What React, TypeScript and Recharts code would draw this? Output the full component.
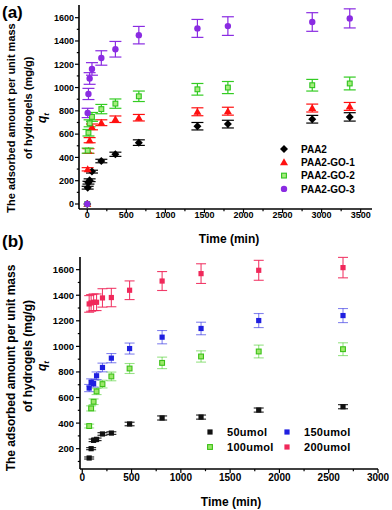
import React from 'react';
import { ScatterChart, Scatter, XAxis, YAxis, ErrorBar, Legend } from 'recharts';

// ---------- Panel (a) data ----------
const timeA = [0, 5, 15, 30, 60, 180, 360, 660, 1410, 1800, 2880, 3360];
const paa2 = [0, 140, 183, 204, 278, 369, 427, 527, 668, 686, 728, 748];
const paa2Err = [0, 12, 12, 12, 12, 15, 18, 24, 32, 33, 33, 36];
const go1 = [0, 298, 455, 548, 662, 698, 728, 741, 792, 797, 824, 838];
const go1Err = [0, 14, 20, 22, 25, 25, 28, 28, 34, 34, 34, 34];
const go2 = [0, 458, 612, 693, 748, 815, 862, 925, 985, 1000, 1020, 1035];
const go2Err = [0, 22, 28, 30, 38, 40, 40, 45, 50, 52, 50, 55];
const go3 = [0, 782, 945, 1078, 1160, 1254, 1329, 1450, 1508, 1528, 1563, 1594];
const go3Err = [0, 40, 48, 50, 54, 62, 67, 75, 77, 80, 80, 82];
const ticksAX = [0, 250, 500, 750, 1000, 1250, 1500, 1750, 2000, 2250, 2500, 2750, 3000, 3250, 3500];
const ticksAY = [0, 100, 200, 300, 400, 500, 600, 700, 800, 900, 1000, 1100, 1200, 1300, 1400, 1500, 1600];
const seriesA = ['PAA2', 'PAA2-GO-1', 'PAA2-GO-2', 'PAA2-GO-3'];

// ---------- Panel (b) data ----------
const timeB = [70, 90, 115, 145, 205, 295, 480, 810, 1205, 1790, 2645];
const u50 = [127, 200, 265, 273, 315, 322, 393, 440, 447, 502, 528];
const u50Err = [8, 8, 10, 10, 10, 10, 14, 16, 16, 16, 16];
const u100 = [377, 515, 567, 648, 705, 765, 827, 871, 921, 960, 978];
const u100Err = [15, 20, 22, 25, 30, 34, 39, 45, 44, 50, 50];
const u150 = [674, 718, 710, 770, 835, 908, 983, 1072, 1140, 1202, 1241];
const u150Err = [28, 28, 28, 30, 34, 36, 43, 52, 49, 55, 55];
const u200 = [1332, 1340, 1345, 1345, 1379, 1382, 1439, 1511, 1569, 1595, 1616];
const u200Err = [65, 65, 65, 65, 72, 72, 73, 74, 77, 78, 80];
const ticksBX = [0, 250, 500, 750, 1000, 1250, 1500, 1750, 2000, 2250, 2500, 2750, 3000];
const ticksBY = [100, 200, 300, 400, 500, 600, 700, 800, 900, 1000, 1100, 1200, 1300, 1400, 1500, 1600];
const seriesB = ['50umol', '100umol', '150umol', '200umol'];

const FONT = "Arial, 'Liberation Sans', sans-serif";

const build = (xs: number[], ys: number[], es: number[]) =>
  xs.map((x, i) => ({ x, y: ys[i], e: es[i] }));

const dataA = [
  build(timeA, paa2, paa2Err),
  build(timeA, go1, go1Err),
  build(timeA, go2, go2Err),
  build(timeA, go3, go3Err),
];
const dataB = [
  build(timeB, u50, u50Err),
  build(timeB, u100, u100Err),
  build(timeB, u150, u150Err),
  build(timeB, u200, u200Err),
];

const colA = ['#000000', '#ff1010', '#33cc22', '#8a2be2'];
const colB = ['#000000', '#44cc22', '#1f1fe0', '#f0285a'];

// marker drawers
const diamond = (cx: number, cy: number, c: string) => (
  <path d={`M${cx},${cy - 4}L${cx + 4},${cy}L${cx},${cy + 4}L${cx - 4},${cy}Z`} fill={c} />
);
const triangle = (cx: number, cy: number, c: string) => (
  <path d={`M${cx},${cy - 4}L${cx + 4},${cy + 3}L${cx - 4},${cy + 3}Z`} fill={c} />
);
const squareLight = (cx: number, cy: number, c: string, inner: string) => (
  <rect x={cx - 2.4} y={cy - 2.4} width={4.8} height={4.8} fill={inner} stroke={c} strokeWidth={1.1} />
);
const circle = (cx: number, cy: number, c: string) => <circle cx={cx} cy={cy} r={3.2} fill={c} />;
const square = (cx: number, cy: number, c: string) => (
  <rect x={cx - 2.6} y={cy - 2.6} width={5.2} height={5.2} fill={c} />
);

const markerA = [
  (cx: number, cy: number) => diamond(cx, cy, colA[0]),
  (cx: number, cy: number) => triangle(cx, cy, colA[1]),
  (cx: number, cy: number) => squareLight(cx, cy, '#2fc41f', '#a6ec7e'),
  (cx: number, cy: number) => circle(cx, cy, colA[3]),
];
const markerB = [
  (cx: number, cy: number) => square(cx, cy, '#111111'),
  (cx: number, cy: number) => squareLight(cx, cy, '#3cc018', '#9be86a'),
  (cx: number, cy: number) => square(cx, cy, colB[2]),
  (cx: number, cy: number) => square(cx, cy, colB[3]),
];

const mkShape = (fn: (cx: number, cy: number) => React.ReactElement) => (props: any) => {
  const { cx, cy } = props;
  if (cx == null || cy == null) return <g />;
  return fn(cx, cy);
};

// custom ticks: major (labelled) every `step`, minor in between
const makeXTick = (step: number, fs: number, gap: number) => (props: any) => {
  const { x, y, payload } = props;
  const v = payload.value;
  const major = v % step === 0;
  return (
    <g>
      <line x1={x} x2={x} y1={y} y2={y + (major ? 4 : 2.2)} stroke="#000" strokeWidth={1.2} />
      {major && (
        <text x={x} y={y + gap} dy="0.72em" textAnchor="middle" fontSize={fs} fontWeight="bold" fontFamily={FONT} fill="#000">
          {v}
        </text>
      )}
    </g>
  );
};
const makeYTick = (step: number, fs: number, gap: number) => (props: any) => {
  const { x, y, payload } = props;
  const v = payload.value;
  const major = v % step === 0;
  return (
    <g>
      <line x1={x - (major ? 4 : 2.2)} x2={x} y1={y} y2={y} stroke="#000" strokeWidth={1.2} />
      {major && (
        <text x={x - gap} y={y} dy="0.36em" textAnchor="end" fontSize={fs} fontWeight="bold" fontFamily={FONT} fill="#000">
          {v}
        </text>
      )}
    </g>
  );
};

const LegendA = () => (
  <svg width={110} height={60} style={{ overflow: 'visible' }}>
    {seriesA.map((name, i) => (
      <g key={name}>
        {markerA[i](5, 5 + i * 13.3)}
        <text x={22} y={5 + i * 13.3} dy="0.36em" fontSize={10} fontWeight="bold" fontFamily={FONT} fill="#000">
          {name}
        </text>
      </g>
    ))}
  </svg>
);

const LegendB = () => (
  <svg width={160} height={30} style={{ overflow: 'visible' }}>
    {seriesB.map((name, i) => {
      const col = i < 2 ? 0 : 1;
      const row = i % 2;
      const mx = 5 + col * 77;
      const my = 5 + row * 15;
      return (
        <g key={name}>
          {markerB[i](mx, my)}
          <text x={mx + 17} y={my} dy="0.36em" fontSize={11} fontWeight="bold" fontFamily={FONT} fill="#000" letterSpacing={0.3}>
            {name}
          </text>
        </g>
      );
    })}
  </svg>
);

const Overlay = () => (
  <svg width={392} height={510} style={{ position: 'absolute', left: 0, top: 0, pointerEvents: 'none' }}>
    <g fontFamily={FONT} fontWeight="bold" fill="#000">
      <text x={2} y={18} fontSize={17}>(a)</text>
      <text x={2} y={247} fontSize={17}>(b)</text>
      <text x={229} y={243} fontSize={12} textAnchor="middle">Time (min)</text>
      <text x={231} y={506} fontSize={12} textAnchor="middle">Time (min)</text>
      <text transform="translate(14.5,118) rotate(-90)" fontSize={11} textAnchor="middle">The adsorbed amount per unit mass</text>
      <text transform="translate(32,108) rotate(-90)" fontSize={11} textAnchor="middle">of hydrogels (mg/g)</text>
      <text transform="translate(14.5,368) rotate(-90)" fontSize={12} textAnchor="middle">The adsorbed amount per unit mass</text>
      <text transform="translate(32,356) rotate(-90)" fontSize={12} textAnchor="middle">of hydrogels (mg/g)</text>
      <text transform="translate(46,118) rotate(-90)" fontSize={12} textAnchor="middle" fontStyle="italic">
        q<tspan fontSize={8} dy={3}>t</tspan>
      </text>
      <text transform="translate(46,366) rotate(-90)" fontSize={12} textAnchor="middle" fontStyle="italic">
        q<tspan fontSize={8} dy={3}>t</tspan>
      </text>
    </g>
  </svg>
);

const axisLine = { stroke: '#000', strokeWidth: 1.6 };

export default function App() {
  return (
    <div style={{ position: 'absolute', left: 0, top: 0, width: 392, height: 510, background: '#fff' }}>
      <div style={{ position: 'absolute', left: 0, top: 0 }}>
        <ScatterChart width={392} height={250} margin={{ top: 5, right: 20, bottom: 0, left: 0 }}>
          <XAxis type="number" dataKey="x" domain={[-106, 3645]} ticks={ticksAX} height={41}
            allowDataOverflow interval={0} tickSize={0} tickMargin={0} tickLine={false}
            tick={makeXTick(500, 9, 3)} axisLine={axisLine} />
          <YAxis type="number" dataKey="y" domain={[-43, 1709]} ticks={ticksAY} width={79}
            allowDataOverflow interval={0} tickSize={0} tickMargin={0} tickLine={false}
            tick={makeYTick(200, 9, 5)} axisLine={axisLine} />
          {dataA.map((d, i) => (
            <Scatter key={seriesA[i]} name={seriesA[i]} data={d}
              shape={mkShape(markerA[i])} isAnimationActive={false}>
              <ErrorBar dataKey="e" direction="y" width={6} stroke={colA[i]} strokeWidth={1.2} />
            </Scatter>
          ))}
          <Legend layout="vertical" align="center" verticalAlign="middle" content={LegendA}
            wrapperStyle={{ position: 'absolute', left: 279, top: 144, width: 110, height: 60 }} />
        </ScatterChart>
      </div>
      <div style={{ position: 'absolute', left: 0, top: 250 }}>
        <ScatterChart width={392} height={260} margin={{ top: 7, right: 14, bottom: 0, left: 0 }}>
          <XAxis type="number" dataKey="x" domain={[-23, 3000]} ticks={ticksBX} height={41}
            allowDataOverflow interval={0} tickSize={0} tickMargin={0} tickLine={false}
            tick={makeXTick(500, 10, 5)} axisLine={axisLine} />
          <YAxis type="number" dataKey="y" domain={[41, 1699]} ticks={ticksBY} width={80}
            allowDataOverflow interval={0} tickSize={0} tickMargin={0} tickLine={false}
            tick={makeYTick(200, 9.5, 6)} axisLine={axisLine} />
          {dataB.map((d, i) => (
            <Scatter key={seriesB[i]} name={seriesB[i]} data={d}
              shape={mkShape(markerB[i])} isAnimationActive={false}>
              <ErrorBar dataKey="e" direction="y" width={5} stroke={colB[i]} strokeWidth={1.1}
                strokeOpacity={i === 1 || i === 2 ? 0.55 : 0.9} />
            </Scatter>
          ))}
          <Legend layout="vertical" align="center" verticalAlign="middle" content={LegendB}
            wrapperStyle={{ position: 'absolute', left: 205, top: 177, width: 160, height: 30 }} />
        </ScatterChart>
      </div>
      <Overlay />
    </div>
  );
}
